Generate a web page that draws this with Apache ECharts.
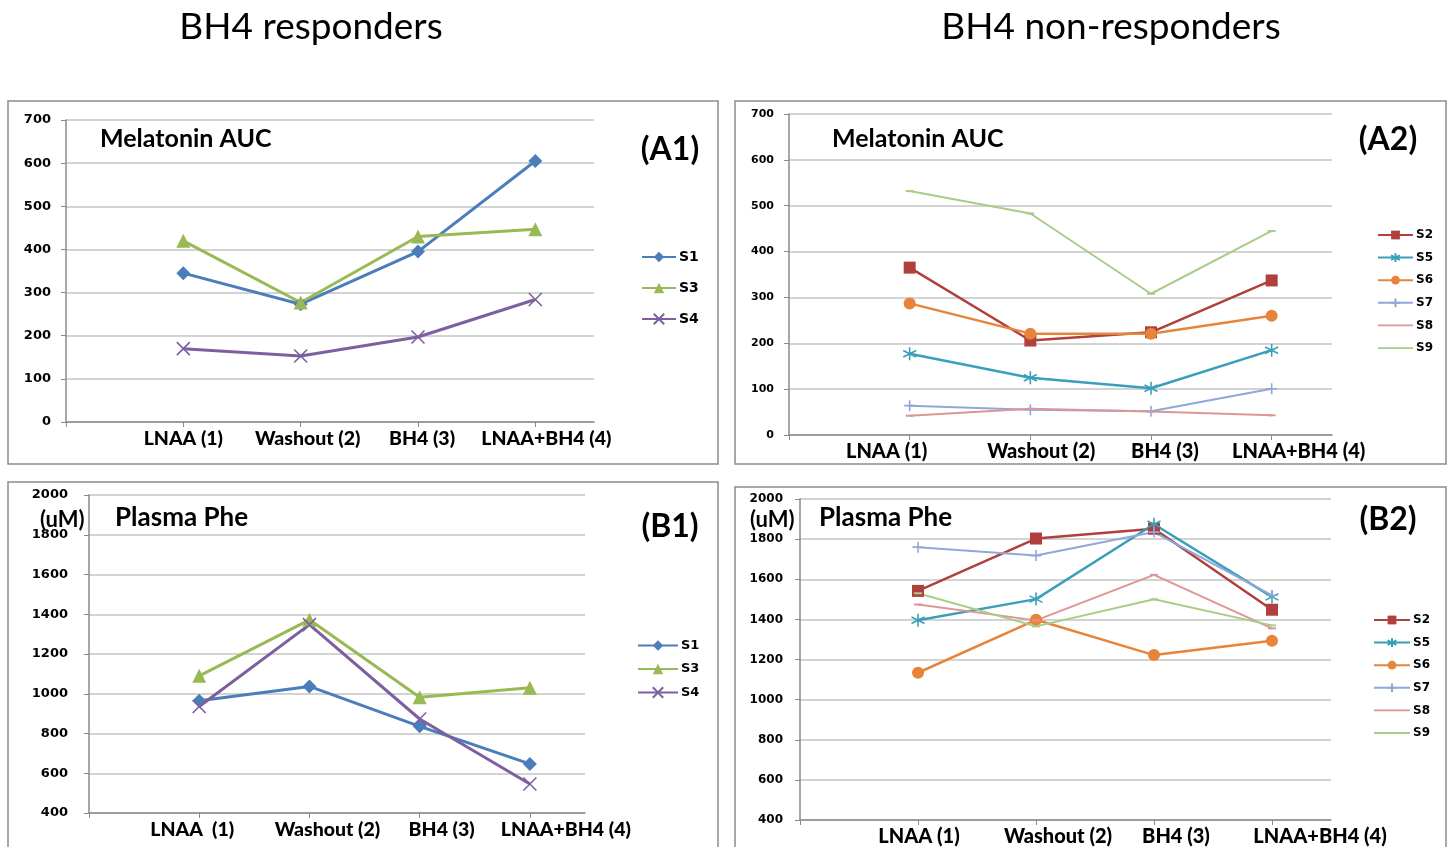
<!DOCTYPE html>
<html>
<head>
<meta charset="utf-8">
<script src="https://cdn.jsdelivr.net/npm/echarts@6/dist/echarts.min.js"></script>
<style>
html,body{margin:0;padding:0;background:#fff;}
#chart{width:1448px;height:847px;}
</style>
</head>
<body>
<div id="chart"></div>
<script>
// ---- data ----
const categories = ['LNAA (1)', 'Washout (2)', 'BH4 (3)', 'LNAA+BH4 (4)'];
const categoriesB1 = ['LNAA  (1)', 'Washout (2)', 'BH4 (3)', 'LNAA+BH4 (4)'];

// (A1) Melatonin AUC – responders
const a1_S1 = [345, 273, 395, 605];
const a1_S3 = [420, 277, 430, 447];
const a1_S4 = [170, 153, 197, 284];
// (A2) Melatonin AUC – non-responders
const a2_S2 = [365, 206, 224, 337];
const a2_S5 = [177, 125, 102, 185];
const a2_S6 = [287, 221, 221, 260];
const a2_S7 = [64, 55, 52, 101];
const a2_S8 = [42, 57, 51, 43];
const a2_S9 = [532, 483, 308, 445];
// (B1) Plasma Phe – responders
const b1_S1 = [965, 1037, 836, 647];
const b1_S3 = [1090, 1372, 982, 1030];
const b1_S4 = [936, 1348, 873, 546];
// (B2) Plasma Phe – non-responders
const b2_S2 = [1542, 1803, 1852, 1448];
const b2_S5 = [1396, 1501, 1874, 1512];
const b2_S6 = [1134, 1398, 1222, 1294];
const b2_S7 = [1760, 1718, 1835, 1520];
const b2_S8 = [1474, 1395, 1622, 1355];
const b2_S9 = [1530, 1365, 1500, 1370];

// ---- styles ----
const COL = {
  S1: '#4a7ebb', S3: '#98b954', S4: '#7d5fa0',
  S2: '#b0403d', S5: '#3a9fb9', S6: '#e8843a', S7: '#8fa8d8', S8: '#de9595', S9: '#a9cc86'
};
const SYM = {
  S1: {symbol: 'diamond', size: 14, stroke: false},
  S3: {symbol: 'triangle', size: 14, stroke: false},
  S4: {symbol: 'path://M0,0L10,10M10,0L0,10', size: 13, stroke: true},
  S2: {symbol: 'rect', size: 12, stroke: false},
  S5: {symbol: 'path://M5,0L5,10M0,2.5L10,7.5M0,7.5L10,2.5', size: 13, stroke: true},
  S6: {symbol: 'circle', size: 12, stroke: false},
  S7: {symbol: 'path://M5,0L5,10M0,5L10,5', size: 11, stroke: true},
  S8: {symbol: 'rect', size: [8, 2], stroke: false},
  S9: {symbol: 'rect', size: [8, 2], stroke: false}
};
const WIDTH = {S1: 3, S3: 3, S4: 3, S2: 2.5, S5: 2.5, S6: 2.5, S7: 2, S8: 2, S9: 2};

function mkSeries(name, values, idx) {
  const s = SYM[name];
  const c = COL[name];
  return {
    name: name, type: 'line', xAxisIndex: idx, yAxisIndex: idx,
    data: values.map((v, i) => [i + 1, v]),
    symbol: s.symbol, symbolSize: s.size, showSymbol: true,
    lineStyle: {color: c, width: WIDTH[name]},
    itemStyle: s.stroke ? {color: 'rgba(0,0,0,0)', borderColor: c, borderWidth: 1.6} : {color: c, borderWidth: 0},
    animation: false
  };
}

const grids = [
  {left: 66, top: 120, width: 528, height: 302},
  {left: 789, top: 114, width: 543, height: 321},
  {left: 89, top: 495, width: 496, height: 318},
  {left: 800, top: 499, width: 531, height: 322}
];
const labelShift = [
  [0, 7, 4, 11],
  [-23, 11, 14, 27],
  [-7, 18, 22, 36],
  [1, 22, 22, 48]
];
const catSets = [categories, categories, categoriesB1, categories];
const xFont = [19.5, 20, 19.5, 20];

function mkX(idx) {
  const rich = {};
  labelShift[idx].forEach((d, i) => {
    rich['c' + i] = {
      fontFamily: 'Lato', fontWeight: 900, fontSize: xFont[idx], color: '#000',
      padding: d >= 0 ? [0, 0, 0, 2 * d] : [0, -2 * d, 0, 0]
    };
  });
  return {
    type: 'value', gridIndex: idx, min: 0, max: 4.5, interval: 1,
    axisLine: {show: true, lineStyle: {color: '#8a8a8a', width: 1.5}},
    axisTick: {show: true, length: 5, lineStyle: {color: '#8a8a8a'}},
    splitLine: {show: false},
    axisLabel: {
      margin: 7, showMaxLabel: false,
      formatter: v => {
        const i = Math.round(v) - 1;
        return (i >= 0 && i < 4) ? '{c' + i + '|' + catSets[idx][i] + '}' : '';
      },
      rich: rich
    }
  };
}
function mkY(idx, min, max, interval, margin, fs) {
  return {
    type: 'value', gridIndex: idx, min: min, max: max, interval: interval,
    axisLine: {show: true, lineStyle: {color: '#8a8a8a', width: 1.5}},
    axisTick: {show: true, length: 5, lineStyle: {color: '#8a8a8a'}},
    splitLine: {show: true, lineStyle: {color: '#c4c4c4', width: 1.5}},
    axisLabel: {margin: margin, fontFamily: 'DejaVu Sans', fontWeight: 'bold', fontSize: fs, color: '#000',
      formatter: v => String(v)}
  };
}

// thin bar icon (same colour as the line) so S8/S9 legend entries show as a plain line
const THIN_BAR = 'path://M0,4.75L10,4.75L10,5.25L0,5.25Z';
function mkLegend(names, left, top, gap, iw, ih, fs) {
  return {
    data: names.map(n => (n === 'S8' || n === 'S9') ? {name: n, icon: THIN_BAR} : {name: n}),
    orient: 'vertical', left: left, top: top, itemGap: gap,
    itemWidth: iw, itemHeight: ih, selectedMode: false,
    textStyle: {fontFamily: 'DejaVu Sans', fontWeight: 'bold', fontSize: fs, color: '#000', padding: [0, 0, 0, -2]}
  };
}

function txt(text, x, y, font, align) {
  return {type: 'text', x: x, y: y, silent: true,
    style: {text: text, font: font, fill: '#000', align: align || 'left', verticalAlign: 'middle'}};
}
function box(x, y, w, h) {
  return {type: 'rect', shape: {x: x, y: y, width: w, height: h}, silent: true, z: -1,
    style: {fill: 'none', stroke: '#8c8c8c', lineWidth: 1.5}};
}

const option = {
  backgroundColor: '#fff',
  animation: false,
  grid: grids,
  xAxis: [mkX(0), mkX(1), mkX(2), mkX(3)],
  yAxis: [
    mkY(0, 0, 700, 100, 15, 13),
    mkY(1, 0, 700, 100, 15, 11),
    mkY(2, 400, 2000, 200, 21, 13),
    mkY(3, 400, 2000, 200, 17, 12)
  ],
  legend: [
    mkLegend(['S1', 'S3', 'S4'], 636, 245, 17, 34, 13, 14),
    mkLegend(['S2', 'S5', 'S6', 'S7', 'S8', 'S9'], 1372, 224, 10.6, 35, 11, 12),
    mkLegend(['S1', 'S3', 'S4'], 632, 634, 10.5, 40, 13, 13),
    mkLegend(['S2', 'S5', 'S6', 'S7', 'S8', 'S9'], 1368, 609, 10.6, 36, 11, 12)
  ],
  series: [
    mkSeries('S1', a1_S1, 0), mkSeries('S3', a1_S3, 0), mkSeries('S4', a1_S4, 0),
    mkSeries('S2', a2_S2, 1), mkSeries('S5', a2_S5, 1), mkSeries('S6', a2_S6, 1),
    mkSeries('S7', a2_S7, 1), mkSeries('S8', a2_S8, 1), mkSeries('S9', a2_S9, 1),
    mkSeries('S1', b1_S1, 2), mkSeries('S3', b1_S3, 2), mkSeries('S4', b1_S4, 2),
    mkSeries('S2', b2_S2, 3), mkSeries('S5', b2_S5, 3), mkSeries('S6', b2_S6, 3),
    mkSeries('S7', b2_S7, 3), mkSeries('S8', b2_S8, 3), mkSeries('S9', b2_S9, 3)
  ],
  graphic: [
    box(8, 101, 710, 363),
    box(735, 101, 711, 363),
    box(8, 482, 710, 372),
    box(735, 487, 711, 372),
    txt('BH4 responders', 311, 27, '37px Lato', 'center'),
    txt('BH4 non-responders', 1111, 27, '37px Lato', 'center'),
    txt('Melatonin AUC', 100, 139, 'bold 25px Lato'),
    txt('(A1)', 670, 150, 'bold 32px Lato', 'center'),
    txt('Melatonin AUC', 832, 139, 'bold 25px Lato'),
    txt('(A2)', 1388, 140, 'bold 32px Lato', 'center'),
    txt('(uM)', 40, 520, 'bold 22px Lato'),
    txt('Plasma Phe', 115, 518, 'bold 26px Lato'),
    txt('(B1)', 670, 527, 'bold 32px Lato', 'center'),
    txt('(uM)', 750, 520, 'bold 22px Lato'),
    txt('Plasma Phe', 819, 518, 'bold 26px Lato'),
    txt('(B2)', 1388, 520, 'bold 32px Lato', 'center')
  ]
};

const chart = echarts.init(document.getElementById('chart'), null, {renderer: 'canvas'});
chart.setOption(option);
</script>
</body>
</html>
